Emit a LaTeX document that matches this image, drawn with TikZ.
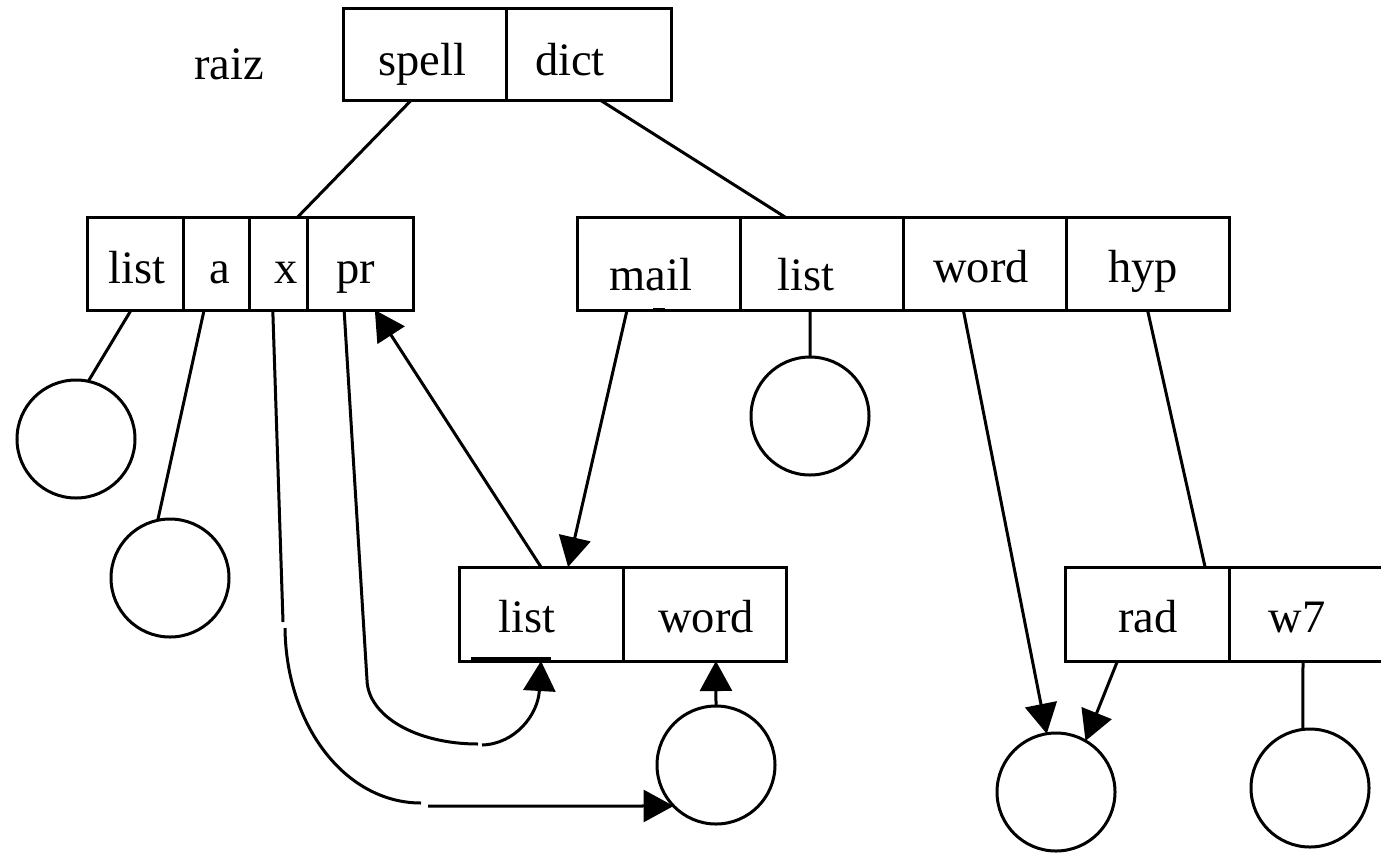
\documentclass[tikz,border=0pt]{standalone}
\usepackage{fontspec}
\setmainfont{Liberation Serif}
\usetikzlibrary{arrows.meta,calc}
\begin{document}
\begin{tikzpicture}[x=0.5pt,y=-0.5pt,
  line width=1.5pt,
  cell/.style={draw,inner sep=0pt,outer sep=0pt,anchor=north west,minimum height=46.5pt},
  lbl/.style={anchor=base,inner sep=0pt,font=\fontsize{23.25}{28}\selectfont},
  circ/.style={draw,circle,minimum size=59pt,inner sep=0pt,outer sep=0pt},
  arr/.style={-{Triangle[length=15pt,width=16pt]}}]
\useasboundingbox (0,0) rectangle (1381,852);
\clip (0,0) rectangle (1381,852);

% top record
\node[cell,minimum width=81.5pt,minimum height=46pt] (spell) at (343,8) {};
\node[cell,minimum width=82.5pt,minimum height=46pt] (dict) at (506,8) {};
% left record
\node[cell,minimum width=48pt] (L1) at (87,217) {};
\node[cell,minimum width=33pt] (L2) at (183,217) {};
\node[cell,minimum width=29pt] (L3) at (249,217) {};
\node[cell,minimum width=53pt] (L4) at (307,217) {};
% right record
\node[cell,minimum width=81.5pt] (R1) at (577,217) {};
\node[cell,minimum width=81.5pt] (R2) at (740,217) {};
\node[cell,minimum width=81.5pt] (R3) at (903,217) {};
\node[cell,minimum width=81.5pt] (R4) at (1066,217) {};
% middle record
\node[cell,minimum width=82pt,minimum height=47pt] (M1) at (459,567) {};
\node[cell,minimum width=81.5pt,minimum height=47pt] (M2) at (623,567) {};
% bottom right record
\node[cell,minimum width=82pt,minimum height=47pt] (B1) at (1065,567) {};
\node[cell,minimum width=81.5pt,minimum height=47pt] (B2) at (1229,567) {};

% labels
\node[lbl] (traiz) at (229,79) {raiz};
\node[lbl] (tspell) at (422,75) {spell};
\node[lbl] (tdict) at (570,75) {dict};
\node[lbl] (tl1) at (137,283) {list};
\node[lbl] (tl2) at (220,283) {a};
\node[lbl] (tl3) at (286,283) {x};
\node[lbl] (tl4) at (356,283) {pr};
\node[lbl] (tr1) at (651,290) {mail};
\node[lbl] (tr2) at (806,290) {list};
\node[lbl] (tr3) at (981,282) {word};
\node[lbl] (tr4) at (1143,282) {hyp};
\node[lbl] (tm1) at (527,632) {list};
\node[lbl] (tm2) at (706,632) {word};
\node[lbl] (tb1) at (1148,632) {rad};
\node[lbl] (tb2) at (1297,632) {w7};

% circles
\node[circ] (c1) at (76,439) {};
\node[circ] (c2) at (170,578) {};
\node[circ] (c3) at (810,416) {};
\node[circ] (c4) at (716,765) {};
\node[circ] (c5) at (1056,792) {};
\node[circ] (c6) at (1310,788) {};

% tree edges
\draw ($(spell.south west)!0.42!(spell.south east)$) -- ($(L3.north west)!0.84!(L3.north east)$);
\draw ($(dict.south west)!0.57!(dict.south east)$) -- ($(R2.north west)!0.276!(R2.north east)$);
\draw ($(L1.south west)!0.46!(L1.south east)$) -- (c1.78);
\draw ($(L2.south west)!0.32!(L2.south east)$) -- (c2.102);
\draw ($(R2.south west)!0.43!(R2.south east)$) -- (c3.north);
\draw (R4.south) -- ($(B1.north west)!0.854!(B1.north east)$);
\draw ($(B2.south west)!0.454!(B2.south east)$) -- (c6.97);

% pointers
\draw[arr] ($(R1.south west)!0.307!(R1.south east)$) -- ($(M1.north west)!0.665!(M1.north east)$);
\draw[arr] (M1.north) -- ($(L4.south west)!0.64!(L4.south east)$);
\draw[arr] ($(R3.south west)!0.37!(R3.south east)$) -- (c5.99);
\draw[arr] ($(B1.south west)!0.32!(B1.south east)$) -- (c5.60);
\draw[arr] (c4.north) -- ($(M2.south west)!0.57!(M2.south east)$);

% x pointer (with small breaks)
\coordinate (xa) at (283,622);
\coordinate (xb) at (285,628);
\coordinate (xc) at (421,803);
\coordinate (xd) at (428,806);
\draw ($(L3.south west)!0.41!(L3.south east)$) -- (xa);
\draw (xb) .. controls (286,725) and (345,803) .. (xc);
\draw[arr] (xd) -- (c4.224);

% pr pointer (with small break)
\coordinate (pa) at (367,680);
\coordinate (pb) at (478,744);
\coordinate (pc) at (482,745);
\draw ($(L4.south west)!0.35!(L4.south east)$) -- (pa) .. controls (368,716) and (416,744) .. (pb);
\draw[arr] (pc) .. controls (515,744) and (538,715) .. (M1.south);

% small marks of the original drawing
\draw (471,658) -- (551,658);
\draw[line width=1pt] (653,309) -- (665,309);
\end{tikzpicture}
\end{document}
